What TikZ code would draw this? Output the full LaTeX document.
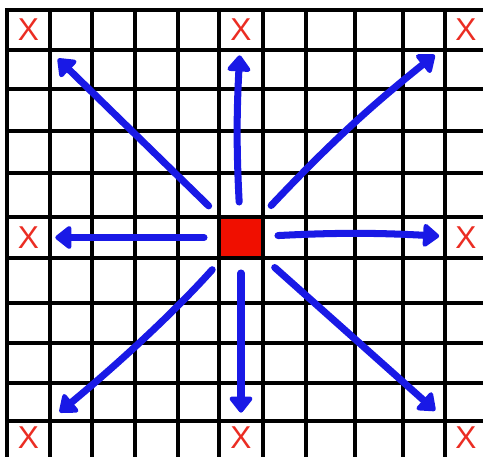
\documentclass[tikz,border=0pt]{standalone}
\usepackage{fontspec}
\setmainfont{Liberation Sans}
\usepackage{xcolor}
\usepackage{tikz}
\usetikzlibrary{arrows.meta}

\definecolor{penblue}{RGB}{25,25,230}
\definecolor{markred}{RGB}{235,45,35}
\definecolor{srcred}{RGB}{240,15,0}

\begin{document}
\begin{tikzpicture}[
  x=0.02cm, y=0.02cm,
  gridline/.style={line width=2.3pt, black, line cap=rect},
  cell/.style={minimum width=0.86cm, minimum height=0.8cm, inner sep=0pt},
  xmark/.style={cell, text=markred, font=\fontsize{18}{18}\selectfont},
  arr/.style={-{Triangle[length=10pt,width=15pt,round]}, line width=4pt, penblue, line cap=round, shorten <=0.26cm, shorten >=0.1cm},
  diag/.style={shorten >=0.24cm}
]
  \useasboundingbox (0,0) rectangle (483,456);
  \fill[white] (0,0) rectangle (483,456);
  % grid
  \foreach \gx in {7,50,92,135,178,219,263,306,355,403,445}
    \draw[gridline] (\gx,0) -- (\gx,446);
  \foreach \gy in {446,406,367,325,283,239,198,153,113,73,35}
    \draw[gridline] (7,\gy) -- (483,\gy);

  \node[cell, fill=srcred, draw=black, line width=2.3pt, minimum width=0.88cm, minimum height=0.82cm] (src) at (241,218.5) {};

  \node[xmark] (xNW) at (28.5,426) {X};
  \node[xmark] (xN) at (241,426) {X};
  \node[xmark] (xNE) at (466,426) {X};
  \node[xmark] (xW) at (28.5,218.5) {X};
  \node[xmark] (xE) at (466,218.5) {X};
  \node[xmark] (xSW) at (28.5,18) {X};
  \node[xmark] (xS) at (241,18) {X};
  \node[xmark] (xSE) at (466,18) {X};

  \draw[arr] (src) to[bend left=3] (xN);
  \draw[arr, diag] (src) -- (xNW);
  \draw[arr, diag] (src) to[bend left=4] (xNE);
  \draw[arr] (src) -- (xW);
  \draw[arr] (src) to[bend left=3] (xE);
  \draw[arr, diag] (src) .. controls (178,148) and (125,98) .. (xSW);
  \draw[arr] (src) -- (xS);
  \draw[arr, diag] (src) -- (xSE);
\end{tikzpicture}
\end{document}
